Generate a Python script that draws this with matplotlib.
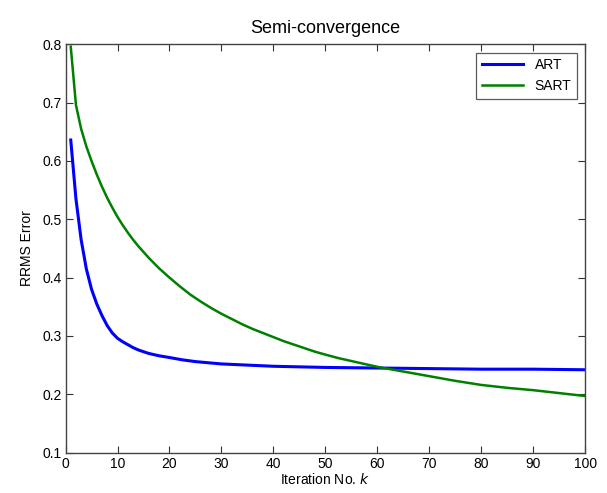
import numpy as np
import matplotlib
matplotlib.use('Agg')
import matplotlib.pyplot as plt

plt.rcParams['font.family'] = ['Liberation Sans', 'DejaVu Sans']

# values
art_k = [1, 2, 3, 4, 5, 6, 7, 8, 9, 10, 11, 12, 13, 14, 15, 16, 18, 20, 22.5, 25,
         30, 40, 50, 60, 70, 80, 90, 100]
art_err = [0.636, 0.535, 0.465, 0.415, 0.38, 0.355, 0.335, 0.318, 0.305, 0.296,
           0.290, 0.285, 0.280, 0.276, 0.273, 0.270, 0.266, 0.263, 0.259, 0.256,
           0.252, 0.248, 0.246, 0.245, 0.244, 0.243, 0.243, 0.242]

sart_k = [1, 2, 3, 4, 5, 6, 7, 8, 9, 10, 11, 12, 13, 14, 15, 16, 17, 18, 19, 20,
          22, 24, 26, 28, 30, 32, 34, 36, 38, 40, 42, 44, 46, 48, 50, 52.5, 55,
          57.5, 60, 65, 70, 75, 80, 85, 90, 95, 100]
sart_err = [0.796, 0.696, 0.655, 0.625, 0.600, 0.577, 0.556, 0.537, 0.520, 0.504,
            0.490, 0.477, 0.465, 0.454, 0.444, 0.434, 0.425, 0.416, 0.408, 0.400,
            0.385, 0.371, 0.359, 0.348, 0.338, 0.329, 0.320, 0.312, 0.305, 0.298,
            0.291, 0.285, 0.279, 0.273, 0.268, 0.262, 0.257, 0.252, 0.247, 0.239,
            0.231, 0.223, 0.216, 0.211, 0.207, 0.202, 0.197]

x_ticks = np.arange(0, 101, 10)
y_ticks = np.arange(0.1, 0.81, 0.1)

fig = plt.figure(figsize=(6.07, 4.93), dpi=100)
ax = fig.add_axes([0.108, 0.082, 0.856, 0.828])

ax.plot(art_k, art_err, color='#0000ff', lw=2.2, label='ART')
ax.plot(sart_k, sart_err, color='#008000', lw=1.8, label='SART')

ax.set_xlim(0, 100)
ax.set_ylim(0.1, 0.8)
ax.set_xticks(x_ticks)
ax.set_yticks(y_ticks)
ax.set_yticklabels([f'{v:.1f}' for v in y_ticks])
ax.tick_params(direction='in', length=5, top=True, right=True, labelsize=10,
               color='#333333', pad=3)
for s in ax.spines.values():
    s.set_color('#444444')
    s.set_linewidth(1.0)

ax.set_title('Semi-convergence', fontsize=13, pad=8)
ax.set_xlabel('Iteration No. $\\mathit{k}$', fontsize=10, labelpad=1)
ax.set_ylabel('RRMS Error', fontsize=10, labelpad=6)

leg = ax.legend(loc='upper right', fontsize=10, frameon=True, fancybox=False,
                handlelength=3.0, borderaxespad=0.6, labelspacing=0.5)
leg.get_frame().set_edgecolor('#333333')
leg.get_frame().set_linewidth(0.9)

fig.savefig('out.png', dpi=100)
